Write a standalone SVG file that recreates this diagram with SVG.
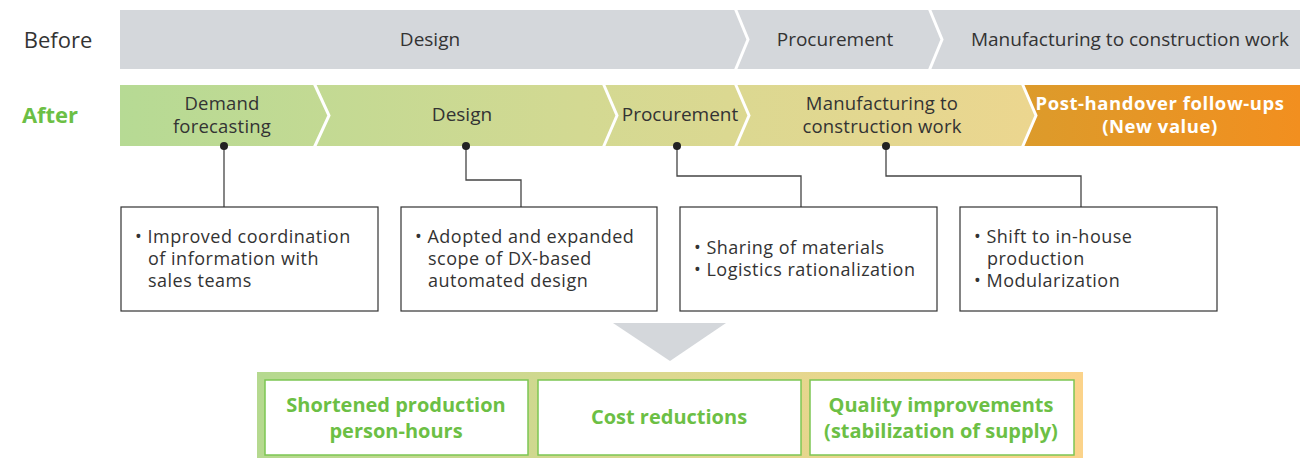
<svg xmlns="http://www.w3.org/2000/svg" width="1300" height="458" viewBox="0 0 1300 458">
<defs>
<linearGradient id="gAfter" gradientUnits="userSpaceOnUse" x1="120" y1="0" x2="1040" y2="0">
<stop offset="0" stop-color="#b6da94"/>
<stop offset="0.5" stop-color="#d3d992"/>
<stop offset="1" stop-color="#ecd68f"/>
</linearGradient>
<linearGradient id="gOrange" gradientUnits="userSpaceOnUse" x1="1023" y1="0" x2="1300" y2="0">
<stop offset="0" stop-color="#dc9b2b"/>
<stop offset="1" stop-color="#f28f1f"/>
</linearGradient>
<linearGradient id="gBottom" gradientUnits="userSpaceOnUse" x1="257" y1="0" x2="1083" y2="0">
<stop offset="0" stop-color="#b5d98f"/>
<stop offset="0.5" stop-color="#dcd88f"/>
<stop offset="1" stop-color="#fbd38a"/>
</linearGradient>
</defs>
<style>
text{font-family:"Open Sans","Noto Sans","Liberation Sans",sans-serif;}
.bar{font-size:19px;fill:#333;text-anchor:middle;}
.bar2{font-size:18.5px;fill:#333;text-anchor:middle;letter-spacing:0.2px;}
.post{font-size:18.5px;font-weight:bold;fill:#fff;text-anchor:middle;letter-spacing:0.55px;}
.sep{fill:none;stroke:#fff;stroke-width:3;}
.box{fill:#fff;stroke:#333;stroke-width:1.2;}
.bt{font-size:18px;fill:#333;letter-spacing:0.5px;}
.conn{fill:none;stroke:#444;stroke-width:1.3;}
.dot{fill:#222;}
.res{fill:#fff;stroke:#7cc653;stroke-width:1.5;}
.rt{font-size:20px;font-weight:bold;fill:#6cbf45;text-anchor:middle;}
</style>

<g id="labels">
<text x="58" y="48" font-size="22" fill="#333" text-anchor="middle">Before</text>
<text x="50" y="123" font-size="22" font-weight="bold" fill="#6cbf45" text-anchor="middle">After</text>
</g>

<g id="before-bar">
<rect x="120" y="10" width="1180" height="59" fill="#d4d7db"/>
<polyline class="sep" points="735,8 748,39.5 735,71"/>
<polyline class="sep" points="929,8 942,39.5 929,71"/>
<text class="bar" x="430" y="46">Design</text>
<text class="bar" x="835" y="46">Procurement</text>
<text class="bar" x="1130" y="46">Manufacturing to construction work</text>
</g>

<g id="after-bar">
<rect x="120" y="85" width="920" height="61" fill="url(#gAfter)"/>
<polygon points="1023,85 1300,85 1300,146 1023,146 1037,115.5" fill="url(#gOrange)"/>
<polyline class="sep" points="314,83 329,115.5 314,148"/>
<polyline class="sep" points="603,83 617,115.5 603,148"/>
<polyline class="sep" points="735,83 749,115.5 735,148"/>
<polyline class="sep" points="1022,83 1036,115.5 1022,148"/>
</g>
<g id="after-demand"><text class="bar2" x="222" y="110">Demand</text><text class="bar2" x="222" y="133">forecasting</text></g>
<g id="after-design"><text class="bar" x="462" y="121">Design</text></g>
<g id="after-procurement"><text class="bar" x="680" y="121">Procurement</text></g>
<g id="after-manufacturing"><text class="bar2" x="882" y="110">Manufacturing to</text><text class="bar2" x="882" y="133">construction work</text></g>
<g id="after-post"><text class="post" x="1160" y="109.5">Post-handover follow-ups</text><text class="post" x="1160" y="133">(New value)</text></g>

<g id="connectors">
<polyline class="conn" points="224,146 224,207"/>
<polyline class="conn" points="466,146 466,180 521,180 521,207"/>
<polyline class="conn" points="677,146 677,176 801,176 801,207"/>
<polyline class="conn" points="886,146 886,176 1081,176 1081,207"/>
<circle class="dot" cx="224" cy="146" r="4"/>
<circle class="dot" cx="466" cy="146" r="4"/>
<circle class="dot" cx="677" cy="146" r="4"/>
<circle class="dot" cx="886" cy="146" r="4"/>
</g>

<g id="box1">
<rect class="box" x="121" y="207" width="257" height="104"/>
<text class="bt" x="135" y="243">• Improved coordination</text>
<text class="bt" x="148" y="265">of information with</text>
<text class="bt" x="148" y="287">sales teams</text>
</g>
<g id="box2">
<rect class="box" x="401" y="207" width="256" height="104"/>
<text class="bt" x="415" y="243">• Adopted and expanded</text>
<text class="bt" x="428" y="265">scope of DX-based</text>
<text class="bt" x="428" y="287">automated design</text>
</g>
<g id="box3">
<rect class="box" x="680" y="207" width="257" height="104"/>
<text class="bt" x="694" y="254">• Sharing of materials</text>
<text class="bt" x="694" y="276">• Logistics rationalization</text>
</g>
<g id="box4">
<rect class="box" x="960" y="207" width="257" height="104"/>
<text class="bt" x="974" y="243">• Shift to in-house</text>
<text class="bt" x="987" y="265">production</text>
<text class="bt" x="974" y="287">• Modularization</text>
</g>

<g id="arrow">
<polygon points="613,323 726,323 670,361" fill="#d4d7db"/>
</g>

<g id="results">
<rect x="257" y="372" width="826" height="86" fill="url(#gBottom)"/>
</g>
<g id="result1">
<rect class="res" x="265" y="380" width="263" height="75"/>
<text class="rt" x="396" y="412">Shortened production</text>
<text class="rt" x="396" y="438">person-hours</text>
</g>
<g id="result2">
<rect class="res" x="538" y="380" width="263" height="75"/>
<text class="rt" x="669" y="424">Cost reductions</text>
</g>
<g id="result3">
<rect class="res" x="810" y="380" width="264" height="75"/>
<text class="rt" x="941" y="412">Quality improvements</text>
<text class="rt" x="941" y="438">(stabilization of supply)</text>
</g>
</svg>
